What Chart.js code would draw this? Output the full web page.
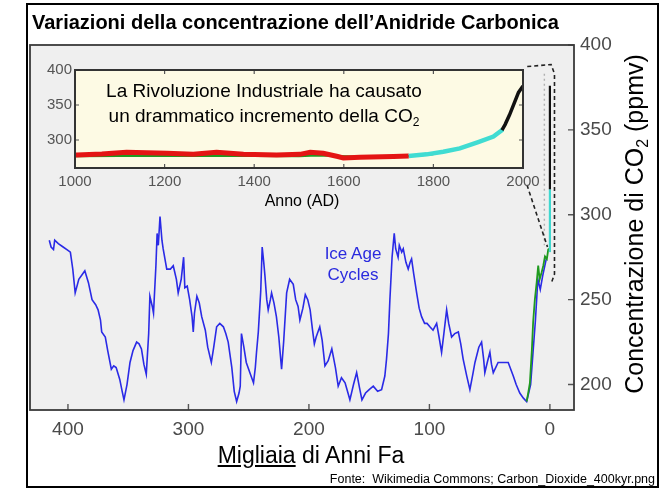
<!DOCTYPE html>
<html><head><meta charset="utf-8">
<script src="https://cdn.jsdelivr.net/npm/chart.js@4/dist/chart.umd.min.js"></script>
<style>
html,body{margin:0;padding:0;background:#fff;}
#wrap{position:relative;width:664px;height:490px;overflow:hidden;font-family:"Liberation Sans",Arial,sans-serif;}
canvas{position:absolute;}
.t{position:absolute;white-space:pre;color:#000;}
</style></head>
<body><div id="wrap">
<canvas id="main" width="664" height="490" style="left:0;top:0"></canvas>
<canvas id="inset" width="530" height="140" style="left:25px;top:58px"></canvas>
<div class="t" style="left:32px;top:12px;font-size:20px;line-height:20px;font-weight:bold;">Variazioni della concentrazione dell’Anidride Carbonica</div>
<div class="t" style="left:264px;top:78px;font-size:19px;line-height:25px;transform:translateX(-50%);text-align:center;">La Rivoluzione Industriale ha causato
un drammatico incremento della CO<sub style="font-size:12px;vertical-align:-4px;line-height:0">2</sub></div>
<div class="t" style="left:302px;top:192px;font-size:16px;line-height:18px;transform:translateX(-50%);">Anno (AD)</div>
<div class="t" style="left:353px;top:243px;font-size:17px;line-height:21px;transform:translateX(-50%);text-align:center;color:#2a2ade;">Ice Age
Cycles</div>
<div class="t" style="left:311px;top:444px;font-size:23px;line-height:23px;transform:translateX(-50%);"><u>Migliaia</u> di Anni Fa</div>
<div class="t" style="left:634px;top:224px;font-size:25px;line-height:25px;transform:translate(-50%,-50%) rotate(-90deg);">Concentrazione di CO<sub style="font-size:16px;vertical-align:-5px;line-height:0">2</sub> (ppmv)</div>
<div class="t" style="right:9px;top:472px;font-size:12.5px;line-height:14px;">Fonte:  Wikimedia Commons; Carbon_Dioxide_400kyr.png</div>
<div style="position:absolute;left:26px;top:3px;width:633px;height:485px;border:2px solid #000;box-sizing:border-box;"></div>
</div>
<script>
// ---- Main chart data (thousands of years ago, ppmv) ----
const blueKyr = [415.5,414,412,411,408,404,400,398,396,394,391,388,386,383,380,377,375,373,372,369,367,364,362,360,357,355,353.5,351,348.5,346,343,341,339,337,335,333,332,330,329,327,326,325,323.6,322,321,319,318,315,312.6,310,308.5,306,304,303,301,299,297,296,295,293,291,289,286,284,281,279,276.6,274,271,269,267,264,262,260,258,257,256,254,252,249,246,244.5,243.5,242,240,238.8,237.5,236.5,235,233.8,232,231,229,227,225,222.7,221,218.5,216,213,211,209,207.5,205,203,201,199,197,195.5,194,191,189,186.7,184,181,178,175.7,173,170,168,166,163,160.4,158,156,153,150,146.6,143,139.7,137,135.6,134,132.8,131,129.2,128,126,125,123,121.7,119.5,117.6,116,114.8,113,110.6,108.5,106.5,104,102,99.6,97,94,92,89.9,88,85.7,84,81.6,79,76,74,72,69,66.4,64,62.2,59,56.7,55,54,52,49.8,48.5,47,45,43,41.5,38,34.6,32.5,30.4,28,25,22,19.3,16,12,10,8,6,3];
const blueCO2 = [285,281,279.5,285,283,281,279,278,268,254,262,265,267,260,250,247,244,238,231,228,220,209,211,210,203,196,191,200,213,220,225,224,221,212,206,230,252,246,242,270,289,282,299,285,280,272,268,268,270,262,254,262,275,257,258,250,240,231,242,252,248,240,232,222,213,222,234,236,234,230,225,210,196,190,195,199,230,222,213,207,201,210,219,231,255,281,272,264,250,244,250,254,248,240,228,209,225,254,262,259,250,246,238,245,253,250,244,232,224,228,234,226,211,214,221,210,199,204,201,196,191,200,207,198,191,195,197,199,196,197,205,215,230,250,275,289,280,275,282,278,280,272,268,272,274,265,254,245,240,236,236,234,232,236,228,219,230,244,236,228,230,231,224,215,205,197,206,213,222,225,215,207,213,219,212,207,210,213,213,213,213,209,205,200,195,192,190,200,238,262,256,264,274];
const greenKyr = [19.3,18,16.6,15,13.9,12.5,11,9.7,8.5,6.9,5.5,4.1,2.5,1.4,0.5];
const greenCO2 = [190,195,201,220,237,250,260,270,262,266,270,275.5,274,279.5,280];
const cyanKyr = [0,0];
const cyanCO2 = [278,315];
const blackKyr = [0,0];
const blackCO2 = [315,376];
// zoom outline (dashed) in chart units
const zoomAKyr = [18.8,-1,-3.8,-3.8,-0.8];
const zoomACO2 = [387.3,388.5,383,265,259];
const zoomBKyr = [19,2];
const zoomBCO2 = [317.5,281];
const zoomCKyr = [4.6,4.6];
const zoomCCO2 = [383,282];
const mainXTicks = [400,300,200,100,0];
const mainYTicks = [200,250,300,350,400];

// ---- Inset data (year AD, ppmv) ----
const redYear = [1000,1004,1060,1115,1205,1264,1316,1376,1450,1502,1525,1554,1584,1599,1636,1711,1745];
const redCO2  = [278.6,278.6,280,282.4,281,279.5,282.4,279.5,278.6,279.5,282.4,281,276.7,274.4,275.2,276.6,277.3];
const greenYear = [1000,1100,1200,1300,1400,1500,1540,1580,1620,1700,1760,1800];
const greenInsetCO2 = [276.7,277,277.3,277,277,276.8,277.8,277.5,276.5,276.7,277.5,279.5];
const cyanYear = [1745,1785,1822,1859,1900,1934,1955];
const cyanInsetCO2 = [277,279.5,283.3,288,297,305,315];
const blackYear = [1953,1960,1970,1980,1990,2000];
const blackInsetCO2 = [314,322,336,352,368,377];
const insetXTicks = [1000,1200,1400,1600,1800,2000];
const insetYTicks = [300,350,400];

const pts = (xs, ys) => xs.map((x, i) => ({x, y: ys[i]}));
const FONT = '"Liberation Sans", Arial, sans-serif';
const plain = v => String(v);

const frameTicks = {
  id: 'frameTicks',
  beforeDraw(chart, args, o) {
    const a = chart.chartArea, c = chart.ctx;
    c.save(); c.fillStyle = o.bg; c.fillRect(a.left, a.top, a.right - a.left, a.bottom - a.top); c.restore();
  },
  afterDatasetsDraw(chart, args, o) {
    const a = chart.chartArea, c = chart.ctx, sx = chart.scales.x, sy = chart.scales.y;
    c.save();
    c.strokeStyle = o.tickColor; c.lineWidth = o.tickWidth;
    c.beginPath();
    sx.ticks.forEach(t => {
      const p = sx.getPixelForValue(t.value);
      c.moveTo(p, a.bottom); c.lineTo(p, a.bottom - o.len);
      if (o.mirror) { c.moveTo(p, a.top); c.lineTo(p, a.top + o.len); }
    });
    sy.ticks.forEach(t => {
      const p = sy.getPixelForValue(t.value);
      if (o.ySide === 'right') { c.moveTo(a.right, p); c.lineTo(a.right - o.len, p); }
      else { c.moveTo(a.left, p); c.lineTo(a.left + o.len, p); }
      if (o.mirror) { c.moveTo(a.right, p); c.lineTo(a.right - o.len, p); }
    });
    c.stroke();
    c.strokeStyle = o.border; c.lineWidth = o.borderWidth;
    c.strokeRect(a.left, a.top, a.right - a.left, a.bottom - a.top);
    c.restore();
  }
};

const lineDs = (data, color, width, extra) => Object.assign({
  data, borderColor: color, backgroundColor: color, borderWidth: width,
  showLine: true, pointRadius: 0, pointHoverRadius: 0, tension: 0, fill: false
}, extra || {});

new Chart(document.getElementById('main'), {
  type: 'scatter',
  data: { datasets: [
    lineDs(pts(blackKyr, blackCO2), '#111111', 2.2),
    lineDs(pts(cyanKyr, cyanCO2), '#3fd8cf', 2.2),
    lineDs(pts(greenKyr, greenCO2), '#1f9a1f', 1.8),
    lineDs(pts(blueKyr, blueCO2), '#2a2ae6', 1.6),
    lineDs(pts(zoomAKyr, zoomACO2), '#222222', 1.6, {borderDash: [4, 3]}),
    lineDs(pts(zoomBKyr, zoomBCO2), '#222222', 1.6, {borderDash: [4, 3]}),
    lineDs(pts(zoomCKyr, zoomCCO2), '#b0b0b0', 1.4, {borderDash: [2, 3]})
  ]},
  options: {
    responsive: false, animation: false, devicePixelRatio: 1,
    layout: { padding: { left: 30, top: 45, right: 0, bottom: 0 } },
    plugins: { legend: { display: false }, tooltip: { enabled: false },
      frameTicks: { bg: '#efefef', border: '#3a3a3a', borderWidth: 1.8, tickColor: '#555', tickWidth: 1.4, len: 6, ySide: 'right', mirror: false } },
    scales: {
      x: { type: 'linear', reverse: true, min: -20, max: 431.5,
        grid: { display: false, drawTicks: false }, border: { display: false },
        ticks: { color: '#4a4a4a', font: { family: FONT, size: 19 }, padding: 8, maxRotation: 0, autoSkip: false, callback: plain },
        afterBuildTicks: s => { s.ticks = mainXTicks.map(v => ({ value: v })); },
        afterFit: s => { s.height = 80; } },
      y: { type: 'linear', position: 'right', min: 185, max: 400,
        grid: { display: false, drawTicks: false }, border: { display: false },
        ticks: { color: '#4a4a4a', font: { family: FONT, size: 19 }, padding: 6, autoSkip: false, callback: plain },
        afterBuildTicks: s => { s.ticks = mainYTicks.map(v => ({ value: v })); },
        afterFit: s => { s.width = 90; } }
    }
  },
  plugins: [frameTicks]
});

new Chart(document.getElementById('inset'), {
  type: 'scatter',
  data: { datasets: [
    lineDs(pts(blackYear, blackInsetCO2), '#111111', 3.5),
    lineDs(pts(cyanYear, cyanInsetCO2), '#40dcd2', 4.5),
    lineDs(pts(redYear, redCO2), '#e41414', 5),
    lineDs(pts(greenYear, greenInsetCO2), '#1f9a1f', 2)
  ]},
  options: {
    responsive: false, animation: false, devicePixelRatio: 1,
    layout: { padding: { left: 0, top: 12, right: 32, bottom: 0 } },
    plugins: { legend: { display: false }, tooltip: { enabled: false },
      frameTicks: { bg: '#fdfae4', border: '#333333', borderWidth: 2, tickColor: '#555', tickWidth: 1.2, len: 4, ySide: 'left', mirror: true } },
    scales: {
      x: { type: 'linear', min: 1000, max: 2000,
        grid: { display: false, drawTicks: false }, border: { display: false },
        ticks: { color: '#555', font: { family: FONT, size: 15 }, padding: 5, maxRotation: 0, autoSkip: false, callback: plain },
        afterBuildTicks: s => { s.ticks = insetXTicks.map(v => ({ value: v })); },
        afterFit: s => { s.height = 30; } },
      y: { type: 'linear', position: 'left', min: 260, max: 400,
        grid: { display: false, drawTicks: false }, border: { display: false },
        ticks: { color: '#555', font: { family: FONT, size: 15 }, padding: 3, autoSkip: false, callback: plain },
        afterBuildTicks: s => { s.ticks = insetYTicks.map(v => ({ value: v })); },
        afterFit: s => { s.width = 50; } }
    }
  },
  plugins: [frameTicks]
});
</script>
</body></html>
